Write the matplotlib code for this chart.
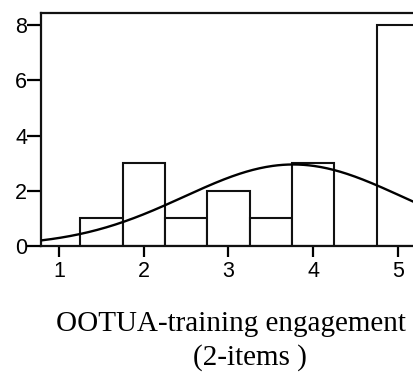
import matplotlib
matplotlib.use("Agg")
import matplotlib.pyplot as plt
import numpy as np

# histogram bins (half-point steps) and frequencies
bin_edges = [1.25, 1.75, 2.25, 2.75, 3.25, 3.75, 4.25, 4.75, 5.25]
counts = [1, 3, 1, 2, 1, 3, 0, 8]
y_ticks = [0, 2, 4, 6, 8]
x_ticks = [1, 2, 3, 4, 5]
label_line1 = "OOTUA-training engagement"
label_line2 = "(2-items )"

W, H = 414, 374
fig = plt.figure(figsize=(W / 100, H / 100), dpi=100)

# axes in pixel terms: left spine at x=41, zero line at y=246, top at y=12.5
px_x = 84.75   # pixels per x unit
px_y = 27.6    # pixels per y unit
x0 = 1 - (59 - 41) / px_x
x1 = 1 + (432 - 59) / px_x
ytop = 8 + (25 - 12.5) / px_y
ax = fig.add_axes([41 / W, (H - 246) / H, (432 - 41) / W, (246 - 12.5) / H])

edges = np.array(bin_edges)
widths = np.diff(edges)
ax.bar(edges[:-1], counts, width=widths, align="edge", facecolor="white",
       edgecolor="#111111", linewidth=1.5, zorder=2)

# fitted normal curve
centers = (edges[:-1] + edges[1:]) / 2
c = np.array(counts)
n = c.sum()
mean = (centers * c).sum() / n
sd = np.sqrt(((centers - mean) ** 2 * c).sum() / (n - 1))
xs = np.linspace(x0, x1, 300)
ys = n * widths[0] * np.exp(-0.5 * ((xs - mean) / sd) ** 2) / (sd * np.sqrt(2 * np.pi))
ax.plot(xs, ys, color="black", linewidth=1.7, zorder=3)

ax.set_xlim(x0, x1)
ax.set_ylim(0, ytop)
for s in ax.spines.values():
    s.set_linewidth(1.6)
    s.set_color("#111111")

ax.set_xticks(x_ticks)
ax.set_yticks(y_ticks)
ax.tick_params(axis="y", length=10, width=1.6, pad=0, labelsize=15.5)
ax.tick_params(axis="x", length=8, width=1.6, pad=3, labelsize=15.5)
for t in ax.get_xticklabels() + ax.get_yticklabels():
    t.set_fontfamily("Liberation Sans")

fig.text(231 / W, (H - 331) / H, label_line1, ha="center", va="baseline",
         fontsize=21, family="Liberation Serif")
fig.text(249.5 / W, (H - 365) / H, label_line2, ha="center", va="baseline",
         fontsize=21, family="Liberation Serif")

fig.savefig("out.png", dpi=100)
